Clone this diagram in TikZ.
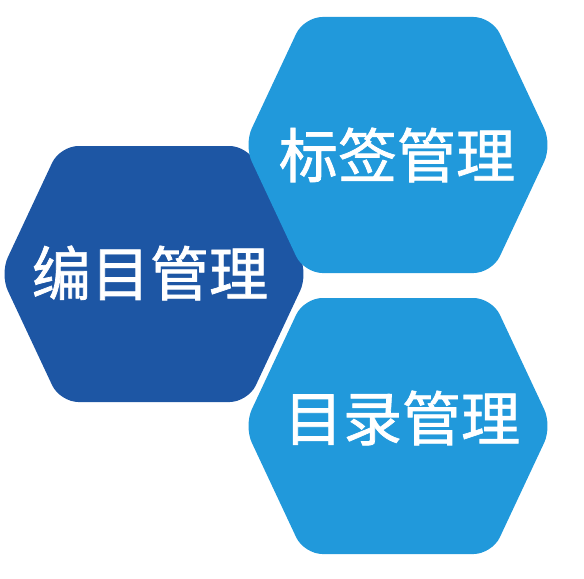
\documentclass[tikz,border=0pt]{standalone}
\usepackage{fontspec}
\usepackage{xcolor}
\newfontfamily\cjk[FakeBold=1.2]{Noto Sans CJK SC}
\definecolor{catblue}{RGB}{29,86,164}
\definecolor{cellblue}{RGB}{33,153,219}
\tikzset{
  hexcell/.style={rounded corners=13pt},
  hexlabel/.style={text=white, font=\cjk\fontsize{42}{48}\selectfont, inner sep=0pt}
}
% hexagon cell: centre x, centre y, colour
\newcommand{\hexcell}[3]{%
  \fill[hexcell,#3] (#1,#2-128) -- (#1+94,#2-128) -- (#1+154,#2) -- (#1+94,#2+128)
    -- (#1-94,#2+128) -- (#1-154,#2) -- (#1-94,#2-128) -- cycle;}

\begin{document}
\begin{tikzpicture}[x=0.025cm,y=-0.025cm]
  \useasboundingbox (0,0) rectangle (584,578);

  % Cells
  \hexcell{154}{274}{catblue}
  \hexcell{398}{145}{cellblue}
  \hexcell{398}{426}{cellblue}

  % Labels
  \node[hexlabel] (catalog) at (150,273) {编目管理};
  \node[hexlabel] (tags) at (397,155) {标签管理};
  \node[hexlabel] (directory) at (402,418) {目录管理};
\end{tikzpicture}
\end{document}
